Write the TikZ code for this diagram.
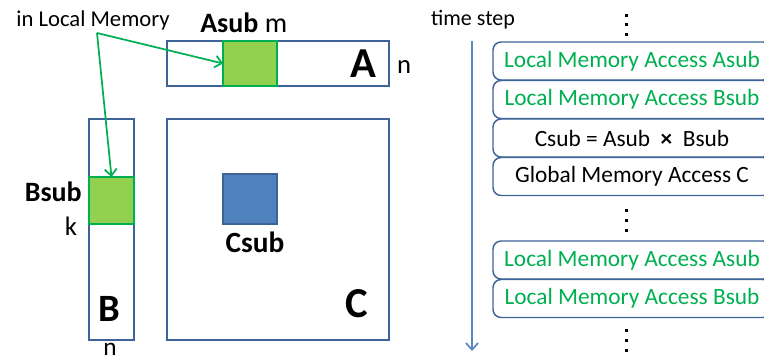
\documentclass[tikz,border=0pt]{standalone}
\usepackage{fontspec}
\setmainfont{Carlito}
\usetikzlibrary{arrows.meta}
\definecolor{rimblue}{HTML}{3E6399}
\definecolor{fillblue}{HTML}{4F81BD}
\definecolor{arrowblue}{HTML}{5B88C4}
\definecolor{txtgreen}{HTML}{00B050}
\definecolor{lightgreen}{HTML}{92D050}
\tikzset{
  mat/.style={draw=rimblue, line width=1.1pt, inner sep=0pt, outer sep=0pt, anchor=north west},
  subg/.style={draw=txtgreen, fill=lightgreen, line width=1.1pt, inner sep=0pt, outer sep=0pt, anchor=north west},
  subb/.style={draw=rimblue, fill=fillblue, line width=1.1pt, inner sep=0pt, outer sep=0pt, anchor=north west},
  stepbox/.style={draw=rimblue, line width=1.1pt, rounded corners=6pt, inner sep=0pt, outer sep=0pt,
     minimum width=208.5pt, minimum height=28.5pt, font=\fontsize{17.5}{20}\selectfont},
  big/.style={font=\fontsize{29}{34}\selectfont\bfseries, inner sep=0pt},
  mid/.style={font=\fontsize{21}{24}\selectfont, inner sep=0pt},
  lbl/.style={font=\fontsize{17}{20}\selectfont, inner sep=0pt},
  garrow/.style={draw=txtgreen, line width=1.3pt, -{Straight Barb[length=5pt,width=9pt]}},
}
\begin{document}
\begin{tikzpicture}[x=0.75pt,y=-0.75pt]
\useasboundingbox (0,0) rectangle (764,361);
\clip (0,0) rectangle (764,361);
% matrices
\node[mat, minimum width=166.5pt, minimum height=33.75pt] (A) at (167,41) {};
\node[subg, minimum width=40.5pt, minimum height=33.75pt] (asub) at (223,41) {};
\node[mat, minimum width=33.75pt, minimum height=165.75pt] (B) at (89,119) {};
\node[subg, minimum width=33.75pt, minimum height=35.25pt] (bsub) at (89,177) {};
\node[mat, minimum width=166.5pt, minimum height=165.75pt] (C) at (167,119) {};
\node[subb, minimum width=40.5pt, minimum height=37.5pt] (csub) at (223,174) {};
% labels
\node[big, font=\fontsize{32}{38}\selectfont\bfseries] (Alab) at (363,64) {A};
\node[mid, font=\fontsize{20}{24}\selectfont] (An) at (404,67) {n};
\node[mid, anchor=base west] (asublab) at (200,32) {\textbf{Asub} m};
\node[mid, anchor=east, font=\fontsize{21}{24}\selectfont\bfseries] (bsublab) at (82,192) {Bsub};
\node[mid, font=\fontsize{20}{24}\selectfont] (bk) at (71,226) {k};
\node[big] (Blab) at (109,309) {B};
\node[mid, font=\fontsize{19}{24}\selectfont] (Bn) at (110,349) {n};
\node[mid, font=\fontsize{22}{26}\selectfont\bfseries] (csublab) at (255,242) {Csub};
\node[big, font=\fontsize{32}{38}\selectfont\bfseries] (Clab) at (357,304) {C};
\node[lbl] (inlm) at (93,20) {in Local Memory};
\coordinate (j) at (97,33);
\draw[garrow] (j) -- (asub.west);
\draw[garrow] (j) -- (bsub.north);
% time step
\node[lbl, font=\fontsize{16.5}{20}\selectfont] (ts) at (473,20) {time step};
\coordinate (t0) at (472,41);
\coordinate (t1) at (472,351);
\draw[draw=arrowblue, line width=1.3pt, -{Straight Barb[length=5pt,width=9pt]}] (t0) -- (t1);
\node[stepbox] (s1) at (632,61) {\textcolor{txtgreen}{Local Memory Access Asub}};
\node[stepbox] (s2) at (632,99.5) {\textcolor{txtgreen}{Local Memory Access Bsub}};
\node[stepbox] (s3) at (632,138) {Csub = Asub ~\textbf{×}~ Bsub};
\node[stepbox] (s4) at (632,176.5) {Global Memory Access C};
\node[stepbox] (s5) at (632,260) {\textcolor{txtgreen}{Local Memory Access Asub}};
\node[stepbox] (s6) at (632,298.5) {\textcolor{txtgreen}{Local Memory Access Bsub}};
% dots
\foreach \cy in {15,24.5,34, 210,220,230, 330,340,350}{
  \fill (626-1.5,\cy-1.5) rectangle (626+1.5,\cy+1.5);
}
\end{tikzpicture}
\end{document}
